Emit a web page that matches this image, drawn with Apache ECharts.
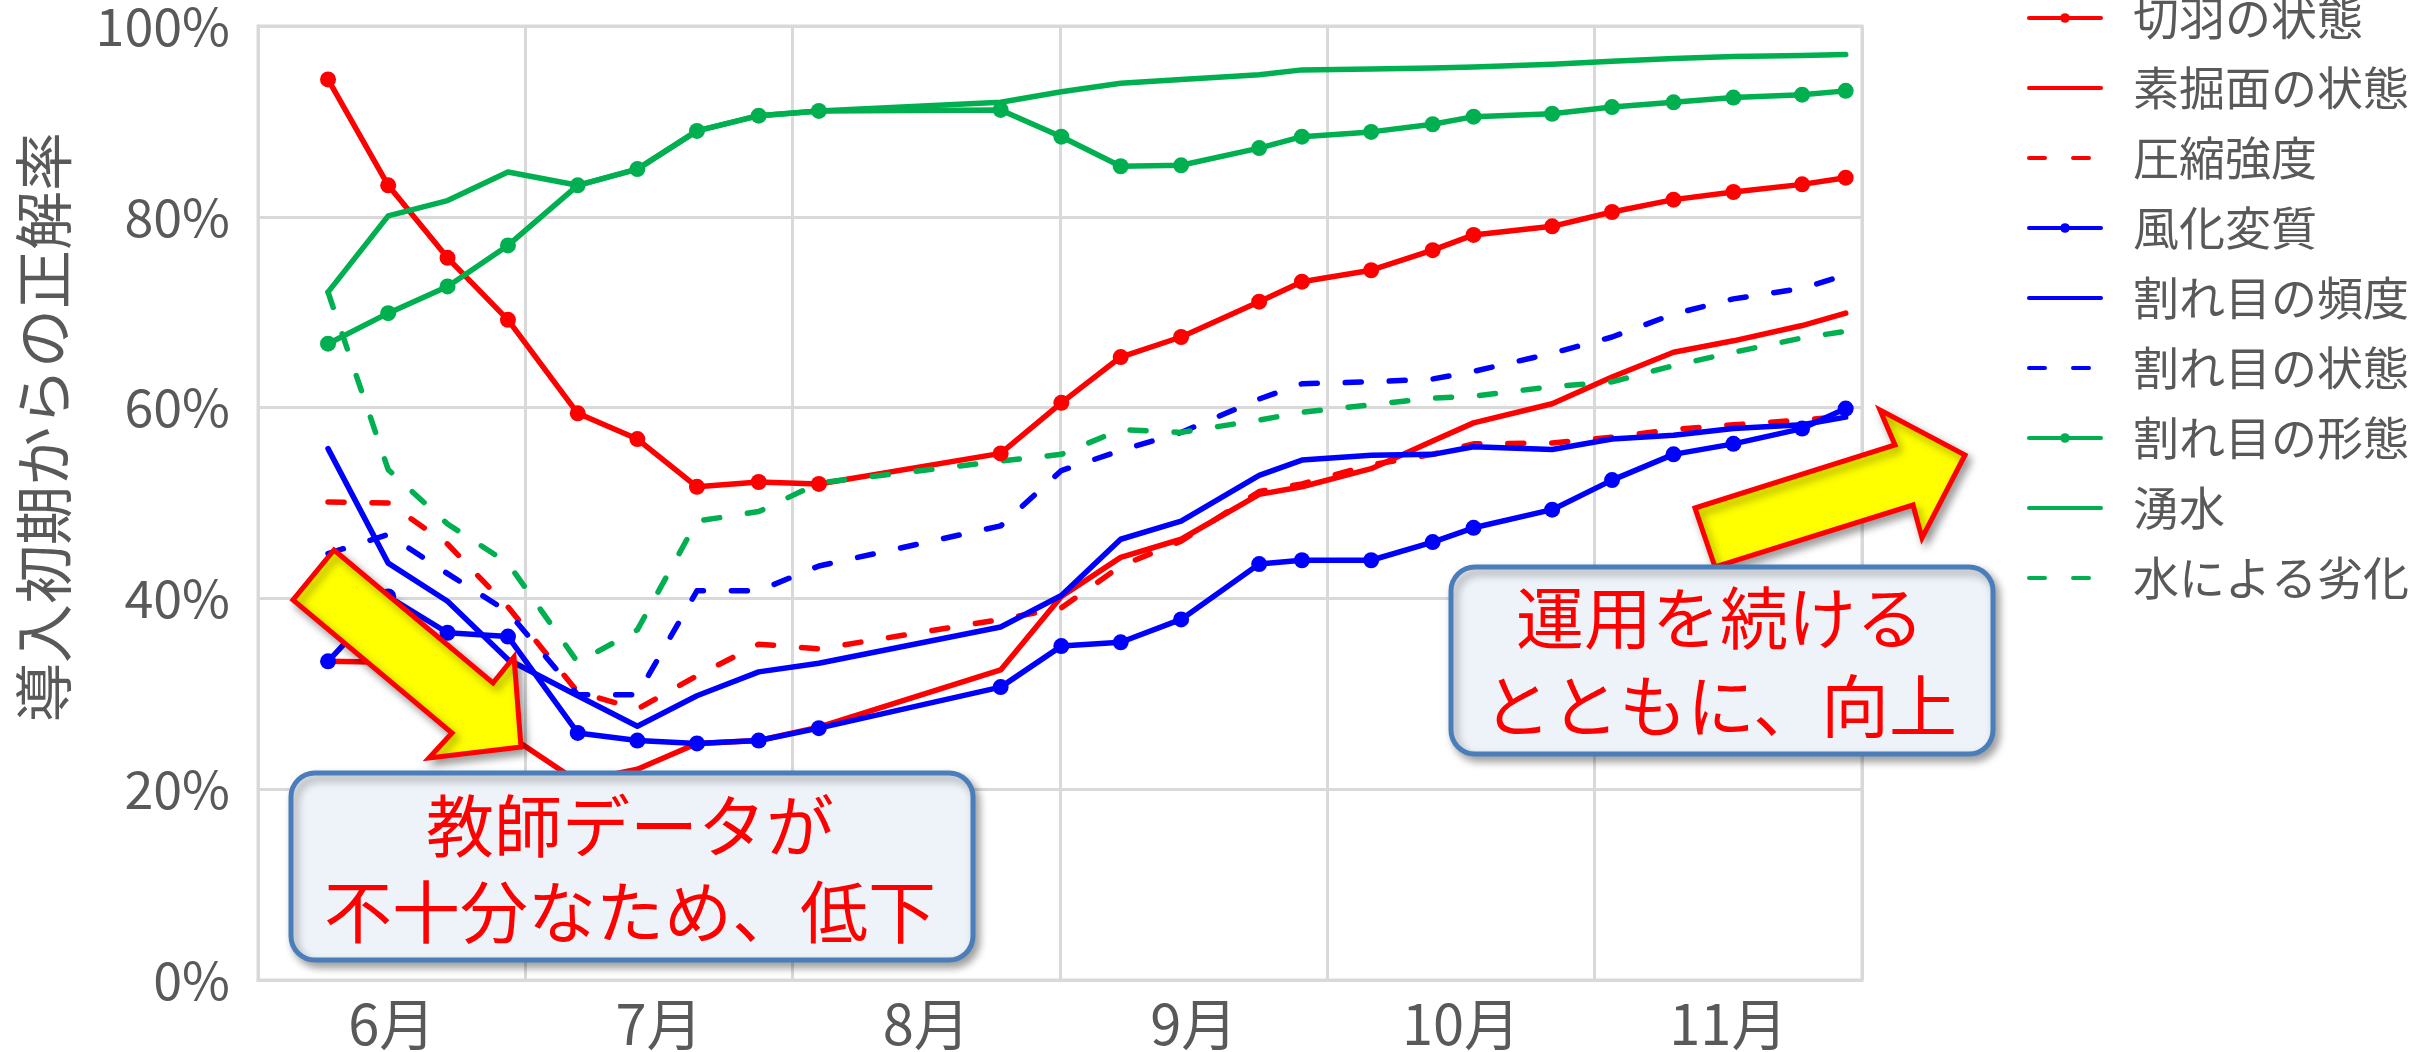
<!DOCTYPE html>
<html>
<head>
<meta charset="utf-8">
<script src="https://cdn.jsdelivr.net/npm/echarts/dist/echarts.min.js"></script>
<style>
  html, body { margin: 0; padding: 0; background: #ffffff; }
  #chart { width: 2412px; height: 1052px; }
</style>
</head>
<body>
<div id="chart"></div>
<script>
// Month bands along the bottom axis
const months = ['6月', '7月', '8月', '9月', '10月', '11月'];
// Evaluation dates, expressed as months elapsed since 1 June
const xPos = [0.262, 0.487, 0.709, 0.935, 1.196, 1.419, 1.642, 1.873, 2.098,
              2.778, 3.005, 3.227, 3.453, 3.745, 3.905, 4.164, 4.394, 4.547,
              4.841, 5.065, 5.295, 5.519, 5.776, 5.939];

// Accuracy (%) per evaluation item
const kiriha  = [94.4, 83.3, 75.7, 69.2, 59.4, 56.7, 51.7, 52.2, 52.0, 55.2, 60.5, 65.3,
                 67.4, 71.1, 73.2, 74.4, 76.5, 78.1, 79.0, 80.5, 81.8, 82.6, 83.4, 84.1];
const sobori  = [33.4, 33.3, 29.5, 25.7, 20.8, 22.1, 24.8, 25.1, 26.5, 32.5, 40.2, 44.3,
                 46.2, 50.9, 51.7, 53.6, 56.5, 58.4, 60.4, 63.2, 65.8, 67.0, 68.6, 69.9];
const assyuku = [50.1, 50.0, 45.7, 39.1, 30.2, 28.4, 31.9, 35.2, 34.7, 37.8, 39.0, 43.4,
                 46.0, 51.2, 52.0, 54.0, 55.1, 56.2, 56.3, 56.9, 57.7, 58.2, 58.7, 59.1];
const fuka    = [33.4, 40.2, 36.4, 36.0, 25.9, 25.1, 24.8, 25.1, 26.4, 30.7, 35.0, 35.4,
                 37.8, 43.6, 44.0, 44.0, 45.9, 47.4, 49.3, 52.4, 55.1, 56.2, 57.8, 59.9];
const hindo   = [55.7, 43.7, 39.7, 33.6, 29.8, 26.6, 29.8, 32.3, 33.2, 37.0, 40.3, 46.2,
                 48.1, 52.9, 54.5, 55.0, 55.1, 55.9, 55.6, 56.7, 57.1, 57.8, 58.2, 59.0];
const jotai   = [44.7, 46.7, 42.6, 38.6, 29.9, 29.9, 40.8, 40.8, 43.4, 47.6, 53.4, 55.5,
                 57.4, 60.9, 62.5, 62.7, 63.0, 63.8, 65.7, 67.4, 69.8, 71.4, 72.5, 73.9];
const keitai  = [66.7, 69.9, 72.7, 77.0, 83.3, 85.0, 89.0, 90.6, 91.1, 91.2, 88.4, 85.3,
                 85.4, 87.2, 88.4, 88.9, 89.7, 90.5, 90.8, 91.5, 92.0, 92.5, 92.8, 93.2];
const yusui   = [72.1, 80.1, 81.7, 84.7, 83.3, 85.0, 89.0, 90.6, 91.1, 92.0, 93.1, 94.0,
                 94.4, 94.9, 95.4, 95.5, 95.6, 95.7, 96.0, 96.3, 96.6, 96.8, 96.9, 97.0];
const rekka   = [72.1, 53.5, 47.8, 43.7, 33.3, 36.7, 48.1, 49.1, 52.1, 54.4, 55.1, 57.7,
                 57.4, 58.7, 59.5, 60.3, 61.0, 61.2, 62.2, 62.7, 64.4, 65.8, 67.3, 68.0];

const FONT = '"Noto Sans CJK JP", "Noto Sans", sans-serif';
const GRID = '#D9D9D9';
const LABEL = '#595959';
const RED = '#FF0000', BLUE = '#0000FF', GREEN = '#00B050';

function makeLine(name, values, color, marker, dashed) {
  return {
    name: name,
    type: 'line',
    xAxisIndex: 1,
    data: xPos.map((x, i) => [x, values[i]]),
    symbol: marker ? 'circle' : 'none',
    symbolSize: 16,
    showSymbol: marker,
    itemStyle: { color: color },
    lineStyle: { color: color, width: 5.5, type: dashed ? [16, 28] : 'solid', cap: 'round', join: 'round' },
    emphasis: { disabled: true },
    animation: false
  };
}

const series = [
  makeLine('切羽の状態',   kiriha,  RED,   true,  false),
  makeLine('素掘面の状態', sobori,  RED,   false, false),
  makeLine('圧縮強度',     assyuku, RED,   false, true),
  makeLine('風化変質',     fuka,    BLUE,  true,  false),
  makeLine('割れ目の頻度', hindo,   BLUE,  false, false),
  makeLine('割れ目の状態', jotai,   BLUE,  false, true),
  makeLine('割れ目の形態', keitai,  GREEN, true,  false),
  makeLine('湧水',         yusui,   GREEN, false, false),
  makeLine('水による劣化', rekka,   GREEN, false, true)
];

// Legend entries: plain line icons for the series drawn without markers
const legendData = series.map(s => s.showSymbol
  ? { name: s.name }
  : { name: s.name, itemStyle: { color: 'rgba(0,0,0,0)', borderWidth: 0, opacity: 0 } });

const boxStyle = {
  fill: '#EEF3F9', stroke: '#4A7EBB', lineWidth: 5,
  shadowBlur: 8, shadowOffsetX: 4, shadowOffsetY: 5, shadowColor: 'rgba(0,0,0,0.35)'
};
const arrowStyle = {
  fill: '#FFFF00', stroke: '#FF0000', lineWidth: 5, lineJoin: 'miter',
  shadowBlur: 8, shadowOffsetX: 4, shadowOffsetY: 5, shadowColor: 'rgba(0,0,0,0.35)'
};
function note(text, x, y) {
  return {
    type: 'text', x: x, y: y, z: 110,
    style: { text: text, fill: RED, fontSize: 68, fontFamily: FONT, align: 'center', verticalAlign: 'middle' }
  };
}

const chart = echarts.init(document.getElementById('chart'), null, { renderer: 'canvas' });
chart.setOption({
  backgroundColor: '#ffffff',
  animation: false,
  grid: { left: 258, top: 12, width: 1604, height: 969, show: true, borderColor: GRID, borderWidth: 3, backgroundColor: 'transparent' },
  legend: {
    orient: 'vertical', left: 2027, top: -9, padding: 0,
    itemWidth: 72, itemHeight: 12, itemGap: 16,
    lineStyle: { width: 4 },
    textStyle: { fontSize: 46, lineHeight: 54, color: LABEL, fontFamily: FONT, padding: [0, 0, 0, 27] },
    data: legendData
  },
  xAxis: [
    {
      type: 'category', data: months, boundaryGap: true, position: 'bottom',
      axisLine: { lineStyle: { color: GRID, width: 3 } },
      axisTick: { show: false },
      axisLabel: { fontSize: 56, color: LABEL, fontFamily: FONT, margin: 16 },
      splitLine: { show: true, lineStyle: { color: GRID, width: 3 } }
    },
    { type: 'value', min: 0, max: 6, show: false }
  ],
  yAxis: {
    type: 'value', min: 0, max: 100, interval: 20,
    axisLine: { show: true, lineStyle: { color: GRID, width: 3 } },
    axisTick: { show: false },
    axisLabel: { formatter: '{value}%', fontSize: 52, color: LABEL, fontFamily: FONT, margin: 28 },
    splitLine: { show: true, lineStyle: { color: GRID, width: 3 } }
  },
  series: series,
  graphic: [
    // vertical axis title
    {
      type: 'text', x: 44, y: 427, rotation: Math.PI / 2, z: 100,
      style: { text: '導入初期からの正解率', fill: LABEL, fontSize: 59, fontFamily: FONT, align: 'center', verticalAlign: 'middle' }
    },
    { type: 'polygon', z: 100, shape: { points: [[334, 550], [493, 683], [514, 657], [521, 747], [429, 758], [452, 733], [293, 600]] }, style: arrowStyle },
    { type: 'rect', z: 100, shape: { x: 291, y: 773, width: 682, height: 187, r: 24 }, style: boxStyle },
    note('教師データが', 630, 826),
    note('不十分なため、低下', 630, 912),
    { type: 'polygon', z: 100, shape: { points: [[1695, 508], [1895, 445], [1880, 410], [1965, 455], [1922, 538], [1913, 505], [1715, 567]] }, style: arrowStyle },
    { type: 'rect', z: 100, shape: { x: 1451, y: 567, width: 542, height: 187, r: 24 }, style: boxStyle },
    note('運用を続ける', 1720, 618),
    note('とともに、向上', 1720, 706)
  ]
});
</script>
</body>
</html>
